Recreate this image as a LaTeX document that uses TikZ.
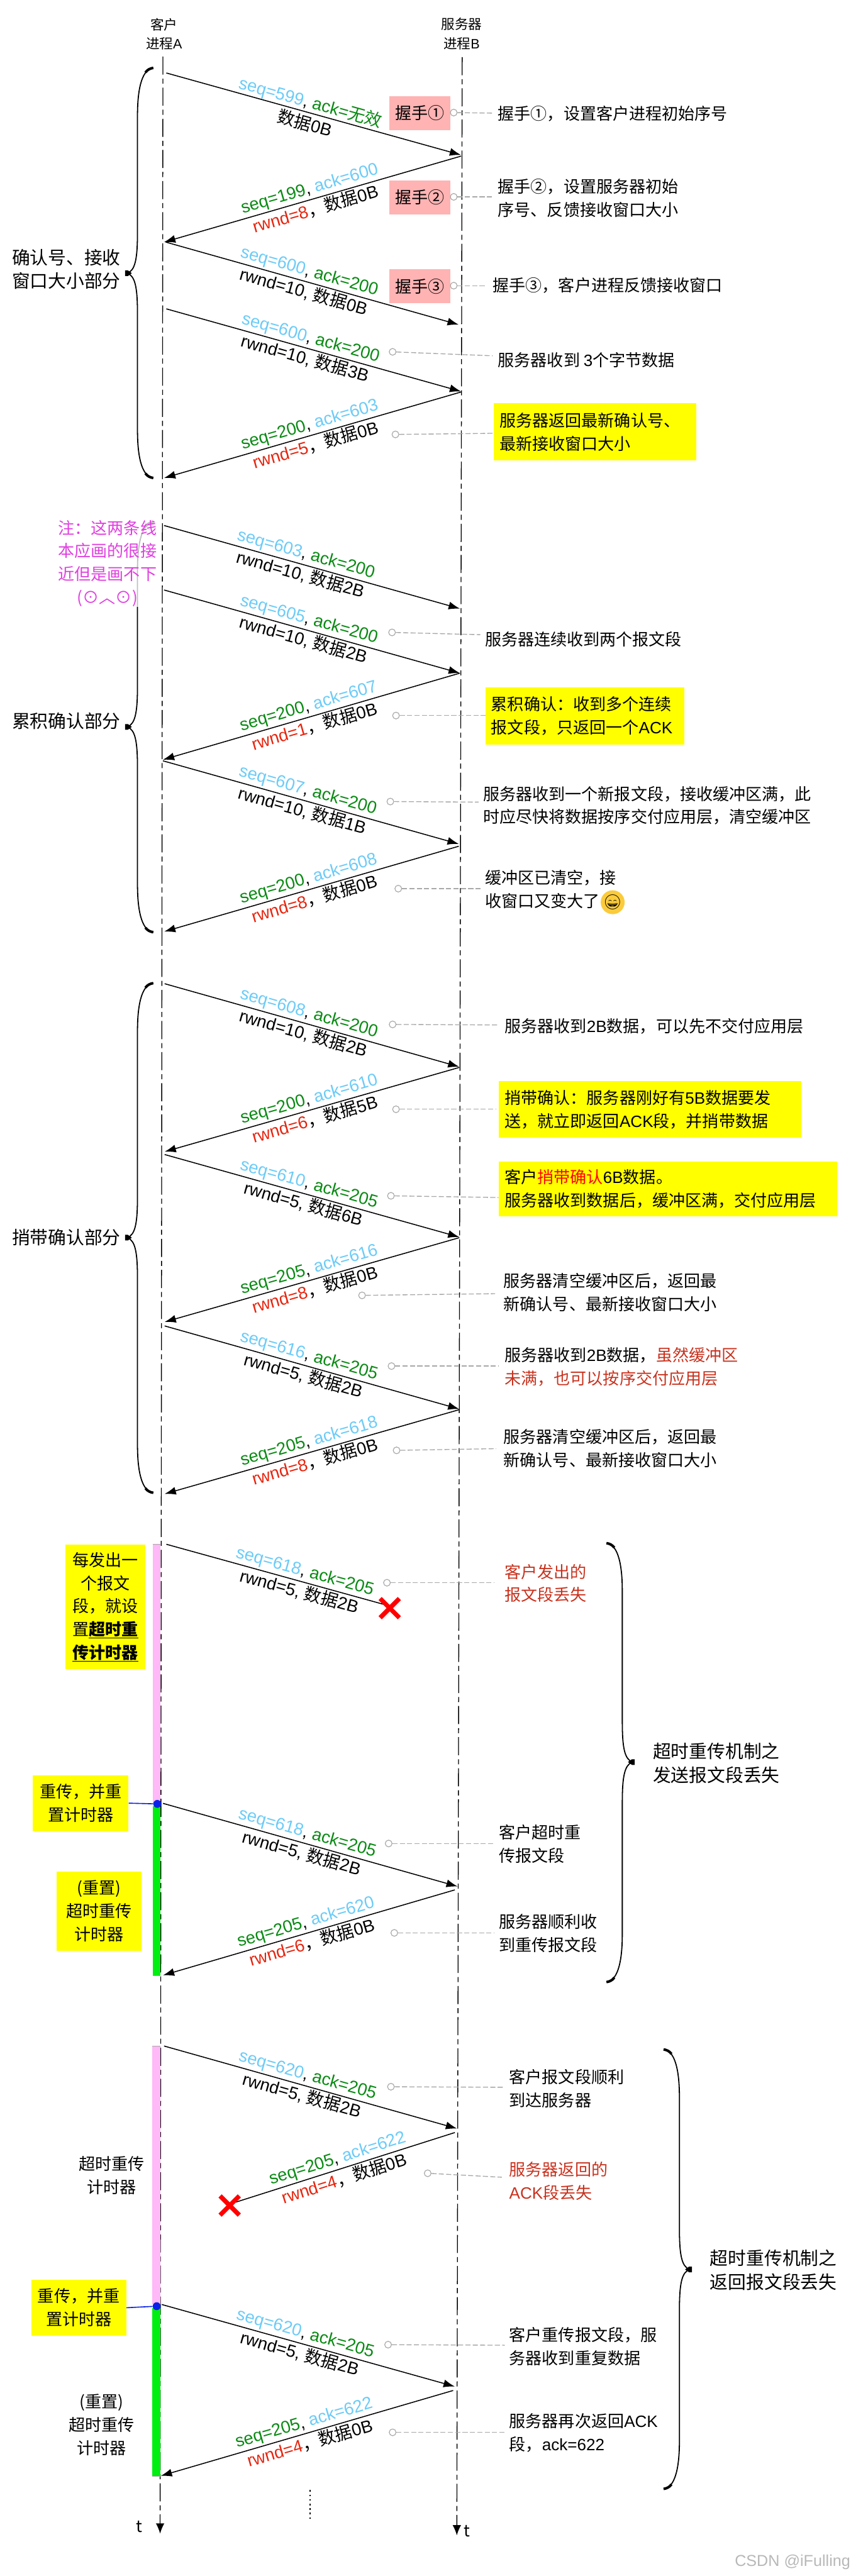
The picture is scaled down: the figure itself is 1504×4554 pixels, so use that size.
\documentclass[tikz,border=0pt]{standalone}
\usepackage{fontspec}
\setmainfont{Noto Sans CJK SC}
\newfontfamily\latinf{Liberation Sans}
\newfontfamily\emojif{Noto Emoji}
\usetikzlibrary{arrows.meta, positioning, shapes.misc}
\definecolor{seqblue}{HTML}{6CCBF7}
\definecolor{ackgreen}{HTML}{0A8A14}
\definecolor{rwndred}{HTML}{E6250F}
\definecolor{notered}{HTML}{C8321E}
\definecolor{handpink}{HTML}{FFB3B3}
\definecolor{markyellow}{HTML}{FFFF00}
\definecolor{barpink}{HTML}{FFB8F8}
\definecolor{bargreen}{HTML}{00EE10}
\definecolor{timerblue}{HTML}{0A22E8}
\definecolor{notegrey}{HTML}{A8A8A8}
\definecolor{remarkpurple}{HTML}{E040E0}
\definecolor{smileyellow}{HTML}{FBCB3C}
\newcommand{\lab}[2]{\textcolor{#1}{\latinf #2}}
\newcommand{\notesize}{\fontsize{29}{41}\selectfont}
\newcommand{\partsize}{\fontsize{32}{42}\selectfont}
\newcommand{\segsize}{\fontsize{30.5}{39}\selectfont}
\tikzset{
    lifeline/.style={line width=1.5pt, dash pattern=on 32pt off 7pt on 9pt off 7pt,
        -{Latex[length=18pt, width=15pt]}},
    segarrow/.style={line width=1.7pt, -{Latex[length=20pt, width=14pt]}},
    seglost/.style={line width=1.7pt},
    seglabel/.style={sloped, align=center, inner sep=0pt, font=\segsize},
    headtext/.style={font=\fontsize{24}{34}\selectfont, align=center, inner sep=0pt},
    notetext/.style={anchor=west, inner sep=0pt, align=left, font=\notesize},
    parttext/.style={anchor=west, inner sep=0pt, align=left, font=\partsize},
    timertext/.style={inner sep=0pt, align=center, font=\notesize},
    handbox/.style={fill=handpink, minimum width=108pt, minimum height=60pt,
        inner sep=0pt, font=\notesize},
    markbox/.style 2 args={fill=markyellow, anchor=north west, text width=#1pt-20pt,
        minimum height=#2pt, inner xsep=10pt, inner ysep=0pt, align=left, font=\notesize},
    timerbox/.style 2 args={fill=markyellow, anchor=north west, minimum width=#1pt,
        minimum height=#2pt, inner sep=0pt, align=center, font=\notesize},
    notedot/.style={circle, draw=notegrey, fill=white, line width=1.3pt, minimum size=12pt, inner sep=0pt},
    notedash/.style={draw=notegrey, line width=1.5pt, dash pattern=on 9pt off 4pt},
    timerdot/.style={circle, fill=timerblue, minimum size=14pt, inner sep=0pt},
    lostmark/.style={cross out, draw=red, line width=8pt, minimum size=26pt, inner sep=0pt},
    smileface/.style={circle, fill=smileyellow, minimum size=33pt, inner sep=0pt,
        font=\fontsize{26}{26}\selectfont\emojif}
}
\begin{document}
\begin{tikzpicture}[x=1pt, y=-1pt]
    \useasboundingbox (0,0) rectangle (1504,4554);
    % lifelines
    \node[headtext] (clientA) at (290,60) {客户\\进程{\latinf A}};
    \node[headtext] (serverB) at (816,60) {服务器\\进程{\latinf B}};
    \coordinate (lifeAtop) at (288,100);
    \coordinate (lifeAend) at (283,4479);
    \coordinate (lifeBtop) at (817,101);
    \coordinate (lifeBend) at (807.5,4482);
    \draw[lifeline] (lifeAtop) -- (lifeAend);
    \draw[lifeline] (lifeBtop) -- (lifeBend);
    \node[inner sep=0pt, font=\notesize] (tA) at (246,4467) {t};
    \node[inner sep=0pt, font=\notesize] (tB) at (825,4475) {t};
    % timer bars
    \foreach \xa/\ya/\yb/\yc in {270/2730/3187/3493, 269/3617/4074/4378} {
        \fill[barpink] (\xa,\ya) rectangle (\xa+14,\yb);
        \fill[bargreen] (\xa,\yb+6) rectangle (\xa+14,\yc);
        \draw[notegrey, line width=1.5pt] (\xa,\ya) -- (\xa+14,\ya);
        \draw[notegrey, line width=1.5pt] (\xa,\yc) -- (\xa+14,\yc);
    }
    % braces
    \foreach \xtip/\flip/\ytop/\ymid/\ybot in {221/1/120/483/845, 221/1/923/1285/1648, 221/1/1738/2188/2639,
                                               1122/-1/2728/3115/3504, 1223/-1/3623/4012/4400} {
        \begin{scope}[shift={(\xtip,\ymid)}, xscale=\flip]
            \pgfmathsetmacro{\tp}{\ytop-\ymid}
            \pgfmathsetmacro{\bt}{\ybot-\ymid}
            \draw[line width=2pt] (50,\tp) .. controls (32,\tp+2) and (22,\tp+30) .. (22,\tp+85)
                -- (22,-72) .. controls (22,-25) and (18,-5) .. (4,0)
                .. controls (18,5) and (22,25) .. (22,72)
                -- (22,\bt-85) .. controls (22,\bt-30) and (32,\bt-2) .. (50,\bt);
            \draw[line width=4.5pt] (50,\tp) .. controls (44,\tp+1) and (40,\tp+3) .. (36,\tp+8);
            \draw[line width=4.5pt] (50,\bt) .. controls (44,\bt-1) and (40,\bt-3) .. (36,\bt-8);
            \fill (0,-5) -- (5,-5) -- (12,0) -- (5,5) -- (0,5) -- cycle;
        \end{scope}
    }
    % handshake boxes
    \node[handbox] (hand1) at (742,200) {握手①};
    \node[handbox] (hand2) at (742,349) {握手②};
    \node[handbox] (hand3) at (742,506) {握手③};
    % segments
    \coordinate (s1) at (294,129);
    \coordinate (e1) at (815,274);
    \draw[segarrow] (s1) -- node[seglabel, pos=.48] (lab1) {\lab{seqblue}{seq=599}\lab{black}{, }\lab{ackgreen}{ack=}\textcolor{ackgreen}{无效}\\数据{\latinf 0B}} (e1);
    \foreach \n/\xa/\ya/\xb/\yb/\p/\sq/\ak/\rw/\dat/\st in {
        3/293/428/811/574/.48/600/200/10/0/segarrow,
        4/294/546/815/692/.48/600/200/10/3/segarrow,
        6/290/929/813/1076/.47/603/200/10/2/segarrow,
        7/290/1043/813/1190/.48/605/200/10/2/segarrow,
        9/288/1345/811/1492/.48/607/200/10/1/segarrow,
        11/291/1739/812/1886/.48/608/200/10/2/segarrow,
        13/291/2041/812/2187/.48/610/205/5/6/segarrow,
        15/291/2344/812/2491/.48/616/205/5/2/segarrow,
        17/294/2730/681/2837/.62/618/205/5/2/seglost,
        18/288/3188/809/3335/.48/618/205/5/2/segarrow,
        20/290/3617/808/3763/.48/620/205/5/2/segarrow,
        22/286/4074/804/4219/.48/620/205/5/2/segarrow} {
        \coordinate (s\n) at (\xa,\ya);
        \coordinate (e\n) at (\xb,\yb);
        \draw[\st] (s\n) -- node[seglabel, pos=\p] (lab\n) {\lab{seqblue}{seq=\sq}\lab{black}{, }\lab{ackgreen}{ack=\ak}\\{\latinf rwnd=\rw, }数据{\latinf \dat B}} (e\n);
    }
    \foreach \n/\xa/\ya/\xb/\yb/\p/\sq/\ak/\rw/\dat/\st in {
        2/815/276/290/428/.5/199/600/8/0/segarrow,
        5/815/693/290/845/.5/200/603/5/0/segarrow,
        8/813/1190/288/1343/.5/200/607/1/0/segarrow,
        10/811/1496/290/1647/.5/200/608/8/0/segarrow,
        12/812/1887/291/2036/.5/200/610/6/5/segarrow,
        14/812/2188/291/2337/.5/205/616/8/0/segarrow,
        16/812/2492/291/2641/.5/205/618/8/0/segarrow,
        19/804/3341/288/3492/.5/205/620/6/0/segarrow,
        21/804/3770/417/3893/.52/205/622/4/0/seglost,
        23/801/4226/284/4377/.5/205/622/4/0/segarrow} {
        \coordinate (s\n) at (\xa,\ya);
        \coordinate (e\n) at (\xb,\yb);
        \draw[\st] (s\n) -- node[seglabel, pos=\p] (lab\n) {\lab{ackgreen}{seq=\sq}\lab{black}{, }\lab{seqblue}{ack=\ak}\\\lab{rwndred}{rwnd=\rw}，数据{\latinf \dat B}} (e\n);
    }
    \node[lostmark] (lost1) at (689,2843) {};
    \node[lostmark] (lost2) at (406,3899) {};
    % notes with yellow marks
    \node[markbox={358}{101}] (mark1) at (873,713) {服务器返回最新确认号、\\最新接收窗口大小};
    \node[markbox={351}{101}] (mark2) at (858,1215) {累积确认：收到多个连续\\报文段，只返回一个{\latinf ACK}};
    \node[markbox={534}{100}] (mark3) at (882,1911) {捎带确认：服务器刚好有{\latinf 5B}数据要发\\送，就立即返回{\latinf ACK}段，并捎带数据};
    \node[markbox={598}{97}] (mark4) at (882,2053) {客户\textcolor{red}{捎带确认}{\latinf 6B}数据。\\服务器收到数据后，缓冲区满，交付应用层};
    % dashed leaders
    \foreach \n/\xa/\ya/\xb/\yb in {
        1/802/199/871/200, 2/802/348/871/348, 3/802/505/860/505, 4/694/622/871/629,
        5/699/768/873/766, 6/693/1118/849/1122, 7/700/1265/858/1265, 8/690/1417/846/1418,
        9/704/1571/849/1571, 10/694/1811/882/1812, 11/700/1961/876/1961, 12/691/2114/881/2117,
        13/640/2290/875/2287, 14/692/2415/882/2415, 15/701/2564/877/2561, 16/684/2798/873/2798,
        17/687/3259/873/3259, 18/697/3417/873/3417, 19/691/3689/892/3690, 20/756/3842/887/3849,
        21/686/4145/892/4146, 22/694/4300/892/4300} {
        \node[notedot] (dot\n) at (\xa,\ya) {};
        \coordinate (tip\n) at (\xb,\yb);
        \draw[notedash] (dot\n) -- (tip\n);
    }
    % plain notes
    \foreach \n/\xa/\ya/\txt in {
        1/880/201/{握手①，设置客户进程初始序号},
        2/880/350/{握手②，设置服务器初始\\序号、反馈接收窗口大小},
        3/871/505/{握手③，客户进程反馈接收窗口},
        4/880/636/{服务器收到 {\latinf 3}个字节数据},
        6/857/1130/{服务器连续收到两个报文段},
        8/854/1424/{服务器收到一个新报文段，接收缓冲区满，此\\时应尽快将数据按序交付应用层，清空缓冲区},
        9/857/1572/{缓冲区已清空，接\\收窗口又变大了},
        10/892/1814/{服务器收到{\latinf 2B}数据，可以先不交付应用层},
        13/890/2285/{服务器清空缓冲区后，返回最\\新确认号、最新接收窗口大小},
        14/892/2416/{服务器收到{\latinf 2B}数据，\textcolor{notered}{虽然缓冲区}\\\textcolor{notered}{未满，也可以按序交付应用层}},
        15/890/2561/{服务器清空缓冲区后，返回最\\新确认号、最新接收窗口大小},
        16/892/2799/{\textcolor{notered}{客户发出的}\\\textcolor{notered}{报文段丢失}},
        17/882/3260/{客户超时重\\传报文段},
        18/882/3418/{服务器顺利收\\到重传报文段},
        19/900/3692/{客户报文段顺利\\到达服务器},
        20/900/3856/{\textcolor{notered}{服务器返回的}\\\textcolor{notered}{{\latinf ACK}段丢失}},
        21/900/4148/{客户重传报文段，服\\务器收到重复数据},
        22/900/4301/{服务器再次返回{\latinf ACK}\\段，{\latinf ack=622}}} {
        \node[notetext] (note\n) at (\xa,\ya) {\txt};
    }
    \node[smileface] (smile) at (1083,1595) {😄};
    % part titles
    \node[parttext] (part1) at (21,476) {确认号、接收\\窗口大小部分};
    \node[parttext] (part2) at (21,1275) {累积确认部分};
    \node[parttext] (part3) at (21,2188) {捎带确认部分};
    \node[parttext] (part4) at (1154,3117) {超时重传机制之\\发送报文段丢失};
    \node[parttext] (part5) at (1255,4013) {超时重传机制之\\返回报文段丢失};
    % timers
    \node[timerbox={142}{221}] (timer1) at (115,2730) {每发出一\\个报文\\段，就设\\置\underline{\bfseries 超时重}\\\underline{\bfseries 传计时器}};
    \node[timerbox={169}{99}] (timer2) at (58,3138) {重传，并重\\置计时器};
    \node[timerbox={150}{141}] (timer3) at (100,3308) {(重置)\\超时重传\\计时器};
    \node[timerdot] (reset1) at (278,3189) {};
    \draw[timerblue, line width=1.8pt] (timer2.east) -- (reset1);
    \node[timertext] (timer4) at (197,3846) {超时重传\\计时器};
    \node[timerbox={168}{99}] (timer5) at (55,4030) {重传，并重\\置计时器};
    \node[timerdot] (reset2) at (277,4077) {};
    \draw[timerblue, line width=1.8pt] (timer5.east) -- (reset2);
    \node[timertext] (timer6) at (180,4287) {(重置)\\超时重传\\计时器};
    % remark over the second brace
    \node[fill=white, fill opacity=.75, text opacity=1, text=remarkpurple, inner sep=0pt, align=center,
        font=\notesize, minimum width=180pt] (remark) at (190,996) {注：这两条线\\本应画的很接\\近但是画不下\\(⊙︿⊙)};
    % more dots
    \coordinate (moreTop) at (548,4402);
    \coordinate (moreEnd) at (548,4454);
    \draw[line width=2pt, dash pattern=on 3pt off 5pt] (moreTop) -- (moreEnd);
    \node[inner sep=0pt, text=black!28, font=\fontsize{28}{28}\selectfont\latinf] (mark) at (1401,4529) {CSDN @iFulling};
\end{tikzpicture}
\end{document}
